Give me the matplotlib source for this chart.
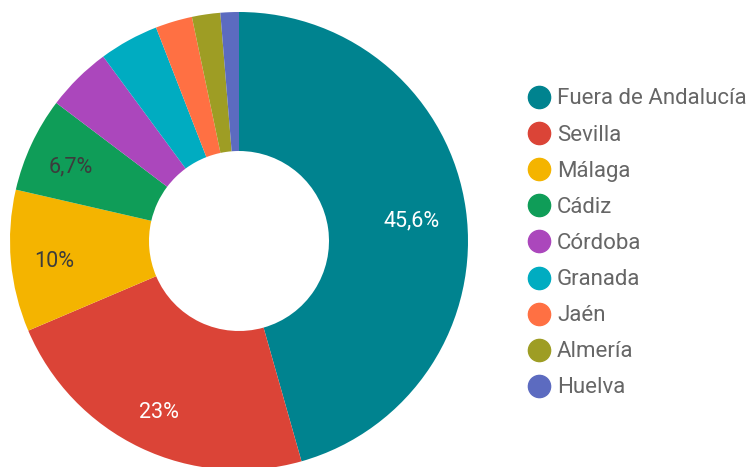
import matplotlib
matplotlib.use('Agg')
import matplotlib.pyplot as plt
from matplotlib.lines import Line2D

plt.rcParams['font.family'] = ['Roboto', 'DejaVu Sans']

# data
provinces = ['Fuera de Andalucía', 'Sevilla', 'Málaga', 'Cádiz', 'Córdoba',
             'Granada', 'Jaén', 'Almería', 'Huelva']
shares = [45.6, 23.0, 10.0, 6.7, 4.6, 4.2, 2.6, 2.0, 1.3]
colors = ['#00838F', '#DB4437', '#F4B400', '#0F9D58', '#AB47BC',
          '#00ACC1', '#FF7043', '#9E9D24', '#5C6BC0']
label_colors = ['white', 'white', '#3c3c3c', '#3c3c3c', 'white',
                'white', 'white', 'white', 'white']

W, H = 752, 467
fig = plt.figure(figsize=(W / 100, H / 100), dpi=100)
ax = fig.add_axes([0, 0, 1, 1])

def fmt(p):
    if p < 5:
        return ''
    s = f'{p:.1f}'.rstrip('0').rstrip('.')
    return s.replace('.', ',') + '%'

cx, cy, r = 239, H - 241, 229
wedges, texts, autotexts = ax.pie(
    shares, colors=colors, center=(cx, cy), radius=r, startangle=90,
    counterclock=False, autopct=fmt, pctdistance=0.81,
    wedgeprops=dict(width=r - 90, linewidth=0),
    textprops=dict(fontsize=15.5))
for i, (t, c) in enumerate(zip(autotexts, label_colors)):
    t.set_color(c)
    x, y = t.get_position()
    k = 0.76 / 0.81 if i == 0 else 1.0  # big slice label sits a bit inward
    t.set_position((cx + (x - cx) * k, cy + (y - cy) * k - 4))

ax.set_xlim(0, W)
ax.set_ylim(0, H)
ax.set_aspect('equal')
ax.axis('off')

# legend with round markers
for i, (name, c) in enumerate(zip(provinces, colors)):
    y = 1 - (97 + 36.1 * i) / H
    fig.add_artist(Line2D([539 / W], [y], marker='o', markersize=16,
                          color=c, linestyle='none', transform=fig.transFigure))
    fig.text(557 / W, y - 2 / H, name, fontsize=16, color='#666666',
             va='center', ha='left')

fig.savefig('out.png', dpi=100)
